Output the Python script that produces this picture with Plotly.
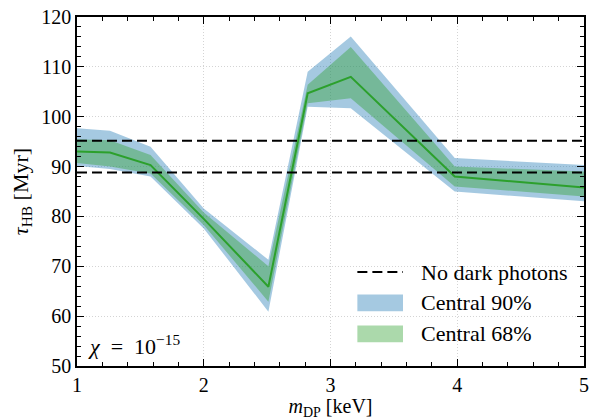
import plotly.graph_objects as go

m_dp = [1.0, 1.26, 1.58, 2.0, 2.51, 2.82, 3.16, 3.98, 5.01]
median = [93.0, 92.8, 90.3, 79.5, 65.9, 104.7, 108.0, 88.0, 85.8]
lo68 = [90.7, 90.0, 88.6, 78.3, 62.9, 102.7, 103.7, 86.0, 84.0]
hi68 = [95.5, 95.3, 92.3, 80.8, 70.0, 106.4, 114.0, 90.0, 89.0]
lo90 = [90.1, 89.5, 88.0, 77.6, 60.9, 102.0, 101.7, 85.0, 83.0]
hi90 = [97.7, 97.2, 94.0, 81.6, 71.3, 109.0, 116.1, 91.7, 90.3]
no_dp = [95.2, 88.8]
x_range = [1, 5]
legend_labels = ["No dark photons", "Central 90%", "Central 68%"]

blue = "rgba(31,119,180,0.4)"
green = "rgba(44,160,44,0.4)"
font = "Liberation Serif, Times New Roman, Times, serif"

fig = go.Figure()
fig.add_trace(go.Scatter(x=m_dp, y=lo90, mode="lines", line=dict(width=0),
                         showlegend=False, hoverinfo="skip"))
fig.add_trace(go.Scatter(x=m_dp, y=hi90, mode="lines", line=dict(width=0),
                         fill="tonexty", fillcolor=blue, name="Central 90%",
                         showlegend=False))
fig.add_trace(go.Scatter(x=m_dp, y=lo68, mode="lines", line=dict(width=0),
                         showlegend=False, hoverinfo="skip"))
fig.add_trace(go.Scatter(x=m_dp, y=hi68, mode="lines", line=dict(width=0),
                         fill="tonexty", fillcolor=green, name="Central 68%",
                         showlegend=False))
fig.add_trace(go.Scatter(x=m_dp, y=median, mode="lines",
                         line=dict(color="#2ca02c", width=2), showlegend=False))
for v in no_dp:
    fig.add_trace(go.Scatter(x=x_range, y=[v, v], mode="lines",
                             line=dict(color="black", width=2, dash="10px,5px"),
                             name="No dark photons", showlegend=False))

axis_common = dict(
    showline=True, linecolor="black", linewidth=1.5, mirror="allticks",
    ticks="inside", ticklen=7, tickwidth=1.2, tickcolor="black",
    showgrid=True, gridcolor="#d4d4d4", griddash="1px,2px", gridwidth=1,
    zeroline=False, tickfont=dict(family=font, size=20, color="black"),
)
fig.update_xaxes(range=x_range, dtick=1, tick0=1,
                 minor=dict(ticks="inside", ticklen=4, dtick=0.2, tick0=1,
                            tickcolor="black", showgrid=False),
                 title=dict(text="<i>m</i><sub>DP</sub> [keV]",
                            font=dict(family=font, size=20, color="black"),
                            standoff=3),
                 **axis_common)
fig.update_yaxes(range=[50, 120], dtick=10, tick0=50,
                 minor=dict(ticks="inside", ticklen=4, dtick=2, tick0=50,
                            tickcolor="black", showgrid=False),
                 title=dict(text="<i>τ</i><sub>HB</sub> [Myr]",
                            font=dict(family=font, size=22, color="black"),
                            standoff=7),
                 **axis_common)

fig.add_annotation(x=1.07, y=54.3, xref="x", yref="y",
                   text="<i>χ</i>\u2002=\u200210<sup>−15</sup>", showarrow=False,
                   xanchor="left", yanchor="middle",
                   font=dict(family=font, size=22, color="black"))

# hand-built legend (matplotlib-style boxes)
leg_x0, leg_x1, leg_tx = 0.553, 0.643, 0.674
leg_y = [0.269, 0.181, 0.092]
half_h = 0.024
fig.add_shape(type="line", xref="paper", yref="paper",
              x0=leg_x0, x1=leg_x1, y0=leg_y[0], y1=leg_y[0],
              line=dict(color="black", width=2, dash="10px,5px"))
for yy, col in zip(leg_y[1:], [blue, green]):
    fig.add_shape(type="rect", xref="paper", yref="paper",
                  x0=leg_x0, x1=leg_x1, y0=yy - half_h, y1=yy + half_h,
                  fillcolor=col, line=dict(width=0))
for yy, lab in zip(leg_y, legend_labels):
    fig.add_annotation(x=leg_tx, y=yy, xref="paper", yref="paper", text=lab,
                       showarrow=False, xanchor="left", yanchor="middle",
                       font=dict(family=font, size=22, color="black"))

fig.update_layout(
    width=594, height=420,
    margin=dict(l=77, r=5, t=17, b=54),
    plot_bgcolor="white", paper_bgcolor="white",
    showlegend=False,
)
fig.write_html("out.html", config={"displayModeBar": False},
               post_script="document.body.style.margin='0';")
